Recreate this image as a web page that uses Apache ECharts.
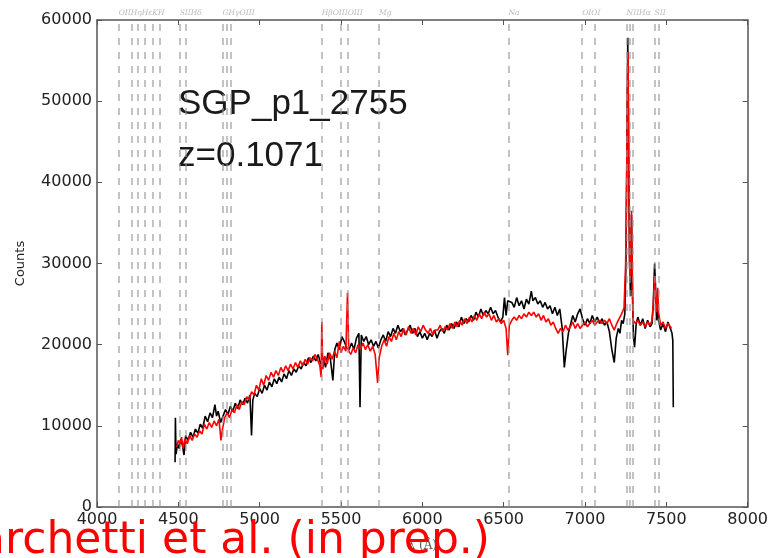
<!DOCTYPE html>
<html>
<head>
<meta charset="utf-8">
<script src="https://cdn.jsdelivr.net/npm/echarts@6/dist/echarts.min.js"></script>
<style>html,body{margin:0;padding:0;background:#fff}#c{width:771px;height:558px}</style>
</head>
<body>
<div id="c"></div>
<script>
// Observed spectrum (black)
const obsWave = [4480,4482,4486,4495,4505,4515,4525,4535,4545,4560,4575,4590,4605,4620,4635,4650,4665,4680,4695,4710,4725,4735,4745,4760,4775,4790,4805,4820,4835,4850,4865,4880,4895,4910,4925,4940,4950,4958,4970,4985,5000,5015,5030,5045,5060,5075,5090,5105,5120,5135,5150,5165,5180,5195,5210,5225,5240,5255,5270,5285,5300,5315,5330,5345,5360,5375,5390,5405,5420,5435,5450,5462,5475,5490,5505,5520,5535,5550,5565,5580,5595,5610,5617,5625,5640,5655,5670,5685,5700,5715,5730,5745,5760,5775,5790,5805,5820,5835,5850,5865,5880,5895,5910,5925,5940,5955,5970,5985,6000,6015,6030,6045,6060,6075,6090,6105,6120,6135,6150,6165,6180,6195,6210,6225,6240,6255,6270,6285,6300,6315,6330,6345,6360,6375,6390,6405,6420,6435,6450,6465,6480,6495,6505,6515,6525,6535,6550,6565,6580,6595,6610,6625,6640,6655,6670,6680,6695,6710,6725,6740,6755,6770,6785,6800,6815,6830,6845,6860,6873,6885,6898,6910,6925,6940,6955,6970,6985,7000,7015,7030,7045,7060,7075,7090,7105,7120,7135,7150,7165,7180,7192,7205,7215,7225,7235,7245,7252,7258,7263,7268,7274,7280,7286,7292,7298,7305,7315,7325,7340,7355,7370,7385,7400,7412,7420,7428,7434,7440,7447,7452,7465,7480,7495,7510,7525,7535,7540,7543];
const obsCounts = [5500,11000,6500,7800,7200,8400,7600,6400,8800,8200,9200,8600,9600,9100,10200,9700,11200,10500,11600,11000,12600,11200,11800,10400,11200,12000,11400,12400,11800,12800,12100,13200,12600,13400,12800,13800,8800,13200,14000,13600,14600,14000,15000,14400,15400,14800,15800,15200,16000,15400,16400,15800,16800,16200,17000,16600,17400,17000,17800,17400,18400,17800,18600,18000,18800,17600,18400,17200,19000,18200,15600,19400,20200,19400,21000,20400,19600,19400,20200,19400,20800,21400,12300,21200,20400,21000,20000,20600,19800,20400,19600,20600,21200,20400,21600,21000,22000,21400,22400,21600,22000,21200,21800,22400,21400,22000,21000,21600,20800,21400,20600,21400,21000,21800,20800,21600,22000,21400,22400,21800,22600,22000,22800,22200,23400,22600,23200,22800,23600,23000,24000,23400,24400,23600,24200,23800,24600,23800,24200,23400,22800,23400,25800,23600,25400,25600,25200,24600,25800,24800,25400,24400,25600,25000,26600,25400,25800,25000,25400,24600,25200,24400,24800,23800,24600,23600,24400,22000,17200,19400,21400,22400,23600,22800,23800,24400,23200,22400,23200,22600,23600,22800,23400,22600,23200,22400,22800,21600,19400,17800,20800,22000,21400,23000,22600,23800,30000,45000,57800,45000,30000,26000,36000,26000,21000,19700,22600,23400,22400,23200,22000,23000,22200,22600,25000,30000,27000,23000,24500,23000,21800,22600,21600,22800,22000,21400,20500,12300];

// Model spectrum (red)
const modelWave = [4490,4500,4510,4520,4530,4540,4555,4570,4585,4600,4615,4630,4645,4660,4675,4690,4705,4720,4735,4750,4762,4770,4785,4800,4815,4830,4845,4860,4875,4890,4905,4920,4935,4950,4965,4980,4995,5010,5025,5040,5055,5070,5085,5100,5115,5130,5145,5160,5175,5190,5205,5220,5235,5250,5265,5280,5295,5310,5325,5340,5355,5370,5378,5382,5388,5400,5415,5430,5445,5460,5475,5490,5500,5515,5530,5540,5548,5560,5575,5590,5605,5620,5635,5650,5665,5680,5695,5710,5725,5735,5750,5765,5780,5795,5810,5825,5840,5855,5870,5885,5900,5915,5930,5945,5960,5975,5990,6005,6020,6035,6050,6065,6080,6095,6110,6125,6140,6155,6170,6185,6200,6215,6230,6245,6260,6275,6290,6305,6320,6335,6350,6365,6380,6395,6410,6425,6440,6455,6470,6485,6500,6515,6525,6535,6550,6565,6580,6595,6610,6625,6640,6655,6670,6685,6700,6715,6730,6745,6760,6775,6790,6805,6820,6835,6850,6865,6880,6895,6910,6925,6940,6955,6970,6985,7000,7015,7030,7045,7060,7075,7090,7105,7120,7135,7150,7165,7180,7195,7210,7225,7240,7250,7256,7261,7264,7267,7271,7276,7282,7286,7290,7296,7310,7325,7340,7355,7370,7385,7400,7412,7420,7428,7434,7440,7447,7452,7465,7480,7495,7510,7525,7532];
const modelCounts = [7400,8200,7800,8600,7200,8400,7800,8800,8200,9000,8600,9400,9000,10200,9600,10400,9800,10600,10000,10800,8200,9400,11000,11600,11000,12000,11600,12600,12000,13000,12600,13600,13200,14200,13800,15000,14400,15800,15000,16200,15600,16600,16000,16800,16200,17200,16600,17400,16800,17600,17000,17800,17200,18000,17400,18200,17600,18400,18000,18800,18200,17400,16000,22800,17000,18600,17600,19000,18200,19200,18400,20400,19000,19800,19200,26400,19200,18800,19600,19000,20000,19400,20200,19400,20000,19200,19800,18800,15300,18400,19800,20600,19800,21000,20400,21400,20600,21600,21000,22000,21200,22200,21400,22000,21200,22200,21600,22400,21800,21400,22000,21200,21800,21800,22400,21600,22200,21800,22600,22000,22800,22200,23000,22400,23200,22600,23400,22800,23600,23000,23800,23200,24000,23400,23800,23000,23600,22800,23200,22600,23000,22000,18700,22400,23000,23400,23000,23600,23200,23800,23400,24000,23600,24000,23400,23800,23000,23600,22800,23200,22400,22800,22000,21400,22000,21600,22400,21800,22200,22800,22000,22600,22000,22400,22800,22200,22600,23000,22400,22800,23000,22600,23000,22600,23200,22400,21800,22600,23200,23800,24500,30000,40000,52000,56000,50000,38000,28000,30000,36500,30000,23000,22600,23000,22400,22800,22200,22800,22400,23000,25000,28500,26000,24000,27000,24000,22400,22800,22000,22600,22200,22000];

// Redshifted spectral line positions (Å)
const lineWaves = [4133,4214,4251,4294,4343,4386,4508,4545,4772,4796,4821,5382,5501,5544,5734,6530,6983,7057,7256,7275,7293,7428,7452];
// Line group labels (placed at the first line of each group)
const lineLabelWaves = [4133,4508,4772,5382,5734,6530,6983,7256,7428];
const lineLabelNames = ['OIIHηHεKH','SIIHδ','GHγOIII','HβOIIIOIII','Mg','Na','OIOI','NIIHα','SII'];

const xTicks = [4000,4500,5000,5500,6000,6500,7000,7500,8000];
const yTicks = [0,10000,20000,30000,40000,50000,60000];

const zip = (a,b) => a.map((v,i)=>[v,b[i]]);

const chart = echarts.init(document.getElementById('c'), null, {renderer:'canvas'});
const axisColor = '#555';
const tickFont = {fontFamily:'DejaVu Sans', fontSize:16, color:'#222'};
chart.setOption({
  animation:false,
  backgroundColor:'#fff',
  grid:{left:97, right:20, top:20, bottom:51, containLabel:false},
  xAxis:[{
    type:'value', min:xTicks[0], max:xTicks[xTicks.length-1], interval:500,
    axisLine:{show:true, onZero:false, lineStyle:{color:axisColor, width:1.5}},
    axisTick:{show:true, inside:true, length:5, lineStyle:{color:axisColor}},
    axisLabel:Object.assign({margin:5, formatter:v=>String(v)}, tickFont),
    splitLine:{show:false},
    name:'λ (Å)', nameLocation:'middle', nameGap:33,
    nameTextStyle:{fontFamily:'DejaVu Serif', fontSize:12, color:'#555'}
  },{
    type:'value', position:'top', min:4000, max:8000, interval:500,
    axisLine:{show:true, onZero:false, lineStyle:{color:axisColor, width:1.5}},
    axisTick:{show:true, inside:true, length:5, lineStyle:{color:axisColor}},
    axisLabel:{show:false}, splitLine:{show:false}
  }],
  yAxis:[{
    type:'value', min:yTicks[0], max:yTicks[yTicks.length-1], interval:10000,
    axisLine:{show:true, onZero:false, lineStyle:{color:axisColor, width:1.5}},
    axisTick:{show:true, inside:true, length:5, lineStyle:{color:axisColor}},
    axisLabel:Object.assign({margin:5, formatter:v=>String(v)}, tickFont),
    splitLine:{show:false},
    name:'Counts', nameLocation:'middle', nameGap:70, nameRotate:90,
    nameTextStyle:{fontFamily:'DejaVu Sans', fontSize:13, color:'#222'}
  },{
    type:'value', position:'right', min:0, max:60000, interval:10000,
    axisLine:{show:true, onZero:false, lineStyle:{color:axisColor, width:1.5}},
    axisTick:{show:true, inside:true, length:5, lineStyle:{color:axisColor}},
    axisLabel:{show:false}, splitLine:{show:false}
  }],
  series:[
    {type:'line', name:'observed', data:zip(obsWave,obsCounts), showSymbol:false, symbol:'none',
     lineStyle:{color:'#000', width:1.6}, z:2},
    {type:'line', name:'model', data:zip(modelWave,modelCounts), showSymbol:false, symbol:'none',
     lineStyle:{color:'#ff0000', width:1.6}, z:3},
    {type:'line', name:'lines', data:[], z:4, silent:true,
     markLine:{silent:true, symbol:['none','none'], label:{show:false},
       lineStyle:{color:'rgba(150,150,150,0.7)', type:[7,7], width:1.6},
       data:lineWaves.map(w=>({xAxis:w}))}},
    {type:'scatter', name:'lineLabels', data:lineLabelWaves.map((w,i)=>[w,60000,lineLabelNames[i]]),
     symbolSize:0, clip:false, silent:true, z:5,
     label:{show:true, position:'top', align:'left', distance:3, offset:[0,0],
       formatter:p=>p.data[2], fontFamily:'DejaVu Serif', fontStyle:'italic', fontSize:7.5, color:'#aaa'}}
  ],
  graphic:[
    {type:'text', left:178, top:87, style:{text:'SGP_p1_2755', font:'35px "Liberation Sans", Arial, sans-serif', fill:'#1a1a1a'}},
    {type:'text', left:178, top:139, style:{text:'z=0.1071', font:'35px "Liberation Sans", Arial, sans-serif', fill:'#1a1a1a'}},
    {type:'text', right:281, top:520, z:100, style:{text:'Marchetti et al. (in prep.)', font:'44px "DejaVu Sans", sans-serif', fill:'#ff0000'}}
  ]
});
</script>
</body>
</html>
